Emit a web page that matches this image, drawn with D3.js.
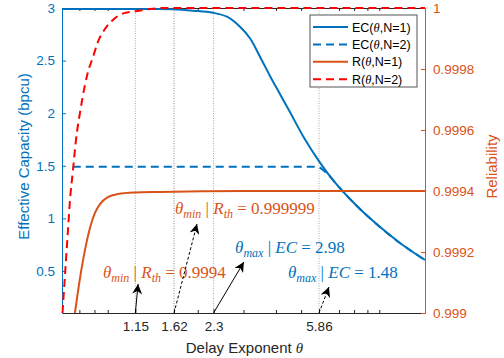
<!DOCTYPE html>
<html>
<head>
<meta charset="utf-8">
<script src="https://cdn.jsdelivr.net/npm/d3@7"></script>
<style>
  body { margin: 0; background: #fff; }
  svg { display: block; font-family: "Liberation Sans", Arial, sans-serif; }
</style>
</head>
<body>
<svg id="chart" width="504" height="358"></svg>
<script>
// axis ticks
const thetaTicks = [1.15, 1.62, 2.3, 5.86];
const thetaMinor = [0.7, 0.8, 0.9, 2, 3, 4, 5, 7, 8, 9, 10];
const ecTicks = [0.5, 1, 1.5, 2, 2.5, 3];
const relTicks = [0.999, 0.9992, 0.9994, 0.9996, 0.9998, 1];

// EC(theta, N=1)
const ecTheta1 = [0.6, 1.0, 1.3, 1.605, 1.917, 2.289, 2.591, 2.908, 3.177, 3.472, 3.794, 4.145, 4.529, 5.164, 5.91, 6.75, 7.71, 9.21, 12.01, 15];
const ecVal1   = [2.99, 2.99, 2.99, 2.988, 2.975, 2.955, 2.917, 2.822, 2.712, 2.537, 2.354, 2.182, 2.011, 1.754, 1.530, 1.341, 1.184, 1.0, 0.766, 0.604];

// EC(theta, N=2)
const ecTheta2 = [0.66, 1, 2, 3, 4, 5, 5.6, 5.86, 6.1, 6.5, 6.75, 7.71, 9.21, 12.01, 15];
const ecVal2   = [1.49, 1.49, 1.49, 1.49, 1.49, 1.49, 1.49, 1.485, 1.455, 1.39, 1.341, 1.184, 1.0, 0.766, 0.604];

// R(theta, N=1)
const rTheta1 = [0.6728, 0.6909, 0.7099, 0.7357, 0.7689, 0.8037, 0.8401, 0.9018, 0.9856, 1.1457, 1.4288, 3, 15];
const rVal1   = [0.999, 0.999069, 0.999134, 0.999207, 0.999279, 0.999328, 0.999357, 0.99938, 0.99939, 0.999395, 0.999397, 0.9994, 0.9994];

// R(theta, N=2)
const rTheta2 = [0.6027, 0.6107, 0.6216, 0.6327, 0.644, 0.6614, 0.6791, 0.7036, 0.7357, 0.7554, 0.7896, 0.8253, 0.8781, 0.9422, 1.0482, 1.1661, 1.3087, 1.4934, 2, 15];
const rVal2   = [0.999, 0.999075, 0.999174, 0.999272, 0.99937, 0.999469, 0.999567, 0.999656, 0.999748, 0.99979, 0.999839, 0.999889, 0.999931, 0.999961, 0.999984, 0.99999, 0.999997, 1, 1, 1];

// annotations: arrow tail/head (theta, EC) and text anchor (theta, EC)
const notes = [
  {sym: "min", lhs: "R", sub: "th", val: "0.9994",   color: "#D95319", tx: 0.863, ty: 0.433, from: [1.15, 0.1], to: [1.178, 0.376], dashed: false},
  {sym: "min", lhs: "R", sub: "th", val: "0.999999", color: "#D95319", tx: 1.634, ty: 1.041, from: [1.62, 0.1], to: [1.986, 0.946], dashed: true},
  {sym: "max", lhs: "EC", sub: "",  val: "2.98",     color: "#0072BD", tx: 2.783, ty: 0.671, from: [2.3, 0.1],  to: [3.01, 0.585],  dashed: false},
  {sym: "max", lhs: "EC", sub: "",  val: "1.48",     color: "#0072BD", tx: 4.451, ty: 0.433, from: [5.86, 0.1], to: [6.40, 0.347],  dashed: true}
];

const blue = "#0072BD", orange = "#D95319", red = "#FF0000", dark = "#262626";

const margin = {top: 8, right: 79, bottom: 45, left: 62};
const width = 504 - margin.left - margin.right;
const height = 358 - margin.top - margin.bottom;

const svg = d3.select("#chart");
const defs = svg.append("defs");
defs.append("marker")
  .attr("id", "head")
  .attr("viewBox", "0 0 10 10")
  .attr("refX", 10).attr("refY", 5)
  .attr("markerWidth", 11).attr("markerHeight", 10)
  .attr("markerUnits", "userSpaceOnUse")
  .attr("orient", "auto")
  .append("path")
  .attr("d", "M0,0 L10,5 L0,10 L3,5 Z")
  .attr("fill", "#000");

const g = svg.append("g").attr("transform", "translate(" + margin.left + "," + margin.top + ")");

const x = d3.scaleLog().domain([0.6, 15]).range([0, width]);
const yL = d3.scaleLinear().domain([0.1, 3]).range([height, 0]);
const yR = d3.scaleLinear().domain([0.999, 1]).range([height, 0]);

// dotted vertical lines at the marked thetas
g.selectAll(".vline")
  .data(thetaTicks)
  .enter()
  .append("line")
  .attr("x1", d => x(d)).attr("x2", d => x(d))
  .attr("y1", 0).attr("y2", height)
  .attr("stroke", d => d === 1.62 ? "#888" : "#aaa")
  .attr("stroke-width", 1)
  .attr("stroke-dasharray", "1,1.5");

// bottom axis
const xAxis = g.append("g")
  .attr("transform", "translate(0," + height + ")")
  .call(d3.axisBottom(x).tickValues(thetaTicks).tickFormat(d => String(d))
    .tickSizeInner(-4).tickSizeOuter(0).tickPadding(8));
xAxis.select(".domain").attr("stroke", dark);
xAxis.selectAll(".tick line").attr("stroke", dark);
xAxis.selectAll("text").attr("fill", dark).style("font-size", "13.5px").style("font-family", "Liberation Sans, Arial, sans-serif");

g.append("g")
  .attr("transform", "translate(0," + height + ")")
  .call(d3.axisBottom(x).tickValues(thetaMinor).tickFormat("").tickSizeInner(-3).tickSizeOuter(0))
  .call(a => a.select(".domain").remove())
  .selectAll("line").attr("stroke", dark);

// top axis
const topAxis = g.append("g")
  .call(d3.axisTop(x).tickValues(thetaMinor).tickFormat("").tickSizeInner(-3).tickSizeOuter(0));
topAxis.select(".domain").attr("stroke", dark);
topAxis.selectAll("line").attr("stroke", dark);

// left axis
const leftAxis = g.append("g")
  .call(d3.axisLeft(yL).tickValues(ecTicks).tickFormat(d => String(d))
    .tickSizeInner(-4).tickSizeOuter(0).tickPadding(7));
leftAxis.select(".domain").attr("stroke", blue);
leftAxis.selectAll(".tick line").attr("stroke", blue);
leftAxis.selectAll("text").attr("fill", blue).style("font-size", "13.5px").style("font-family", "Liberation Sans, Arial, sans-serif");

// right axis
const rightAxis = g.append("g")
  .attr("transform", "translate(" + width + ",0)")
  .call(d3.axisRight(yR).tickValues(relTicks).tickFormat(d => String(d))
    .tickSizeInner(-4).tickSizeOuter(0).tickPadding(8));
rightAxis.select(".domain").attr("stroke", orange);
rightAxis.selectAll(".tick line").attr("stroke", orange);
rightAxis.selectAll("text").attr("fill", orange).style("font-size", "13.5px").style("font-family", "Liberation Sans, Arial, sans-serif");

// axis titles
g.append("text")
  .attr("transform", "translate(-33," + (height / 2 - 4) + ") rotate(-90)")
  .attr("text-anchor", "middle")
  .attr("fill", blue)
  .style("font-size", "15px")
  .text("Effective Capacity (bpcu)");

g.append("text")
  .attr("transform", "translate(" + (width + 72) + "," + (height / 2 + 6) + ") rotate(-90)")
  .attr("text-anchor", "middle")
  .attr("fill", orange)
  .style("font-size", "15px")
  .text("Reliability");

const xTitle = g.append("text")
  .attr("x", width / 2 + 1)
  .attr("y", height + 40)
  .attr("text-anchor", "middle")
  .attr("fill", dark)
  .style("font-size", "15px");
xTitle.append("tspan").text("Delay Exponent ");
xTitle.append("tspan").style("font-family", "Liberation Serif, serif").style("font-style", "italic").text("θ");

// curves
function drawCurve(thetas, vals, yScale, color, dash, curve) {
  const pts = thetas.map((t, i) => [x(t), yScale(vals[i])]);
  g.append("path")
    .attr("d", d3.line().curve(curve)(pts))
    .attr("fill", "none")
    .attr("stroke", color)
    .attr("stroke-width", 2)
    .attr("stroke-dasharray", dash);
}

drawCurve(ecTheta1, ecVal1, yL, blue, null, d3.curveCatmullRom.alpha(0.5));
drawCurve(ecTheta2, ecVal2, yL, blue, "8,5", d3.curveMonotoneX);
drawCurve(rTheta1, rVal1, yR, orange, null, d3.curveMonotoneX);
drawCurve(rTheta2, rVal2, yR, red, "8,5", d3.curveMonotoneX);

// annotations
notes.forEach(n => {
  g.append("line")
    .attr("x1", x(n.from[0])).attr("y1", yL(n.from[1]))
    .attr("x2", x(n.to[0])).attr("y2", yL(n.to[1]))
    .attr("stroke", "#000")
    .attr("stroke-width", 1)
    .attr("stroke-dasharray", n.dashed ? "3,2" : null)
    .attr("marker-end", "url(#head)");

  const t = g.append("text")
    .attr("x", x(n.tx)).attr("y", yL(n.ty))
    .attr("fill", n.color)
    .style("font-family", "Liberation Serif, serif")
    .style("font-size", "17px");
  t.append("tspan").style("font-style", "italic").text("θ");
  t.append("tspan").style("font-style", "italic").style("font-size", "12px").attr("dy", 4).text(n.sym);
  t.append("tspan").attr("dy", -4).text(" | ");
  t.append("tspan").style("font-style", "italic").text(n.lhs);
  if (n.sub) {
    t.append("tspan").style("font-style", "italic").style("font-size", "12px").attr("dy", 4).text(n.sub);
    t.append("tspan").attr("dy", -4).text(" = " + n.val);
  } else {
    t.append("tspan").text(" = " + n.val);
  }
});

// legend
const legendItems = [
  {name: "EC", n: 1, color: blue, dash: null},
  {name: "EC", n: 2, color: blue, dash: "8,5"},
  {name: "R", n: 1, color: orange, dash: null},
  {name: "R", n: 2, color: red, dash: "8,5"}
];
const lg = svg.append("g").attr("transform", "translate(310,15)");
lg.append("rect")
  .attr("width", 107).attr("height", 72)
  .attr("fill", "#fff")
  .attr("stroke", "#555")
  .attr("stroke-width", 1);
legendItems.forEach((d, i) => {
  const yy = 12 + i * 17.4;
  lg.append("line")
    .attr("x1", 3).attr("x2", 38)
    .attr("y1", yy).attr("y2", yy)
    .attr("stroke", d.color)
    .attr("stroke-width", 2)
    .attr("stroke-dasharray", d.dash);
  const t = lg.append("text")
    .attr("x", 42).attr("y", yy + 4.5)
    .attr("fill", "#000")
    .style("font-size", "12.5px");
  t.append("tspan").text(d.name + "(");
  t.append("tspan").style("font-family", "Liberation Serif, serif").style("font-style", "italic").text("θ");
  t.append("tspan").text(",N=" + d.n + ")");
});
</script>
</body>
</html>
